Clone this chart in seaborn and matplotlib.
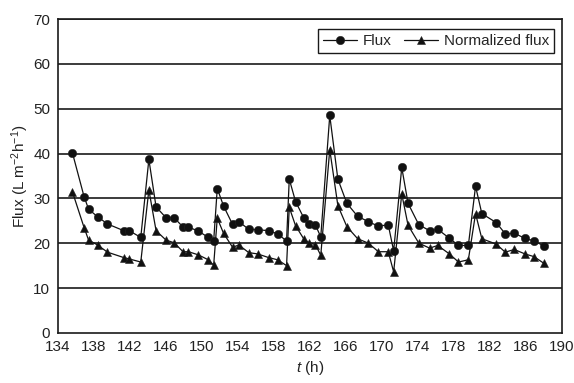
import numpy as np
import pandas as pd
import matplotlib
matplotlib.use("Agg")
import matplotlib.pyplot as plt
import seaborn as sns

# Data
time_h = [135.6, 136.9, 137.4, 138.4, 139.5, 141.3, 141.9, 143.2, 144.1, 144.9,
          146.0, 146.9, 147.9, 148.5, 149.6, 150.7, 151.3, 151.7, 152.4, 153.4,
          154.1, 155.2, 156.2, 157.4, 158.4, 159.4, 159.7, 160.4, 161.3, 161.9,
          162.6, 163.2, 164.2, 165.1, 166.1, 167.3, 168.5, 169.6, 170.7, 171.3,
          172.2, 172.9, 174.1, 175.3, 176.2, 177.5, 178.5, 179.6, 180.4, 181.1,
          182.7, 183.7, 184.7, 185.9, 186.9, 188.0]
flux = [40.2, 30.4, 27.6, 25.9, 24.3, 22.8, 22.8, 21.3, 38.7, 28.1,
        25.7, 25.7, 23.6, 23.6, 22.7, 21.3, 20.5, 32.2, 28.3, 24.2,
        24.8, 23.1, 23.0, 22.8, 22.1, 20.5, 34.3, 29.3, 25.7, 24.2,
        24.1, 21.4, 48.5, 34.3, 28.9, 26.0, 24.8, 23.8, 24.1, 18.3,
        36.9, 28.9, 24.1, 22.8, 23.1, 21.1, 19.5, 19.5, 32.7, 26.6,
        24.6, 22.1, 22.2, 21.1, 20.5, 19.4]
normalized_flux = [31.5, 23.5, 20.7, 19.6, 18.0, 16.8, 16.5, 15.8, 31.9, 22.8,
                   20.7, 20.1, 18.1, 18.1, 17.4, 16.3, 15.1, 25.6, 22.2, 19.1,
                   19.6, 17.9, 17.6, 16.8, 16.3, 15.0, 28.0, 23.9, 21.0, 20.1,
                   19.7, 17.3, 40.9, 28.4, 23.7, 21.0, 20.0, 18.1, 18.1, 13.6,
                   31.0, 24.0, 20.0, 18.9, 19.5, 17.6, 15.8, 16.3, 26.6, 21.0,
                   19.8, 18.0, 18.6, 17.6, 17.0, 15.5]
x_ticks = list(range(134, 191, 4))
y_ticks = list(range(0, 71, 10))

df = pd.DataFrame({
    "t": time_h * 2,
    "value": flux + normalized_flux,
    "series": ["Flux"] * len(flux) + ["Normalized flux"] * len(normalized_flux),
})

sns.set_style("white")
plt.rcParams["font.family"] = ["Liberation Sans", "DejaVu Sans"]
plt.rcParams["mathtext.fontset"] = "custom"
plt.rcParams["mathtext.rm"] = "Liberation Sans"
plt.rcParams["mathtext.it"] = "Liberation Sans:italic"

FS = 11

fig = plt.figure(figsize=(5.74, 3.83), dpi=100)
ax = fig.add_axes([0.101, 0.131, 0.878, 0.819])

sns.lineplot(data=df, x="t", y="value", hue="series", style="series",
             markers={"Flux": "o", "Normalized flux": "^"}, dashes=False,
             palette={"Flux": "#111111", "Normalized flux": "#111111"},
             linewidth=0.9, markersize=6, markeredgewidth=0.4,
             markeredgecolor="#222222", sort=False, ax=ax)

ax.set_xlim(134, 190)
ax.set_ylim(0, 70)
ax.set_xticks(x_ticks)
ax.set_yticks(y_ticks)
ax.tick_params(axis="both", direction="out", length=4, width=0.9,
               color="#222222", labelsize=FS, pad=1.5, labelcolor="#222222")
ax.tick_params(axis="y", right=False)
for y in y_ticks[1:]:
    ax.axhline(y, color="#1a1a1a", linewidth=1.2, zorder=0)
for s in ax.spines.values():
    s.set_color("#1a1a1a")
    s.set_linewidth(1.2)

ax.set_xlabel("$t$ (h)", fontsize=FS, labelpad=3, color="#222222")
ax.set_ylabel("Flux (L m$^{-2}$h$^{-1}$)", fontsize=FS, labelpad=2, color="#222222")

handles, labels = ax.get_legend_handles_labels()
leg = ax.legend(handles, labels, loc="upper right", ncol=2, fontsize=FS,
                frameon=True, fancybox=False, bbox_to_anchor=(0.985, 0.97),
                borderaxespad=0.0,
                handlelength=2.2, handletextpad=0.4, columnspacing=0.8,
                borderpad=0.35)
leg.get_frame().set_edgecolor("#1a1a1a")
leg.get_frame().set_linewidth(1.0)
leg.get_frame().set_alpha(1)

fig.savefig("out.png", dpi=100)
